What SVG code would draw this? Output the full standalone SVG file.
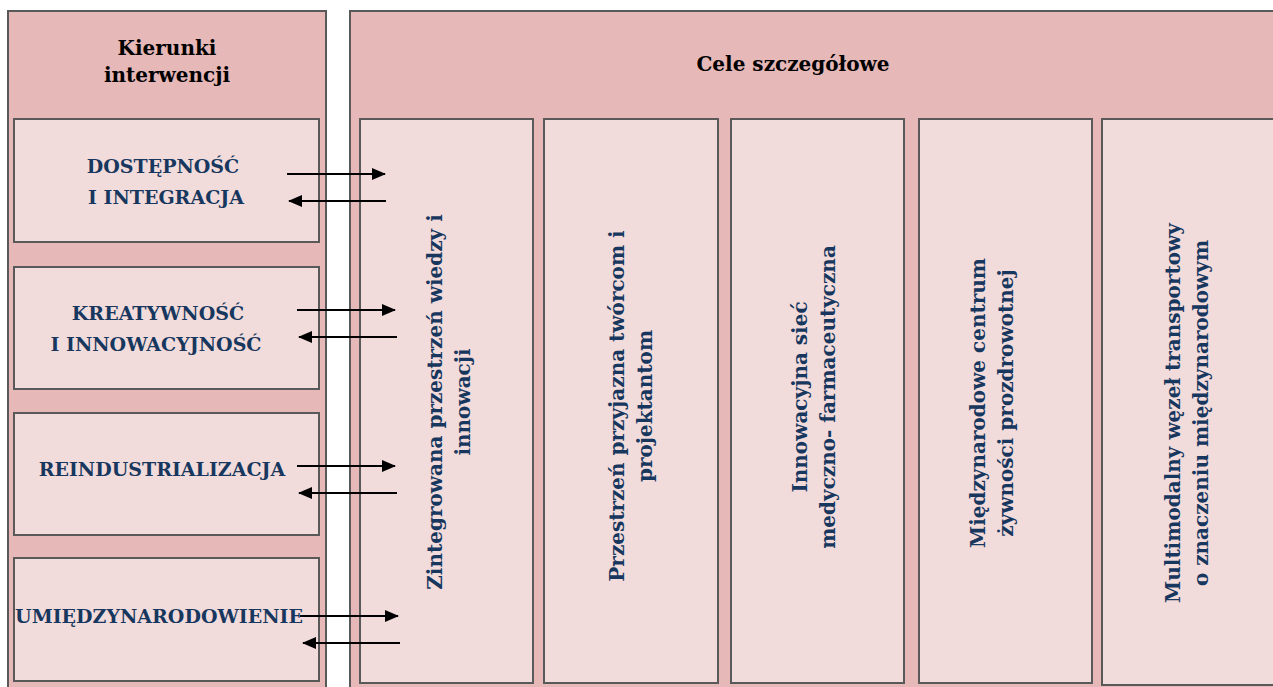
<svg xmlns="http://www.w3.org/2000/svg" width="1273" height="687" viewBox="0 0 1273 687">
<style>
.outer{fill:#E6B8B7;stroke:#595959;stroke-width:2}
.inner{fill:#F2DCDB;stroke:#595959;stroke-width:2}
.hd{font-family:"DejaVu Serif","Liberation Serif",serif;font-weight:bold;font-size:20px;fill:#000;text-anchor:middle}
.bl{font-family:"DejaVu Serif","Liberation Serif",serif;font-weight:bold;font-size:19px;fill:#17375E;text-anchor:middle}
.vt{font-family:"DejaVu Serif","Liberation Serif",serif;font-weight:bold;font-size:20px;fill:#17375E;text-anchor:middle}
.arr{stroke:#000;stroke-width:2;fill:none;marker-end:url(#ah)}
</style>
<defs>
<marker id="ah" markerUnits="userSpaceOnUse" markerWidth="14" markerHeight="14" viewBox="0 0 14 14" refX="13" refY="7" orient="auto">
<path d="M0,1 L14,7 L0,13 Z" fill="#000"/>
</marker>
</defs>
<g id="left-panel">
<rect class="outer" x="8" y="11" width="318" height="700"/>
<text class="hd" x="167" y="55">Kierunki</text>
<text class="hd" x="167" y="82">interwencji</text>
</g>
<g id="right-panel">
<rect class="outer" x="350" y="11" width="950" height="700"/>
<text class="hd" x="793" y="71">Cele szczegółowe</text>
</g>
<g id="k1">
<rect class="inner" x="14" y="119" width="305" height="123"/>
<text class="bl" x="163" y="173">DOSTĘPNOŚĆ</text>
<text class="bl" x="166" y="204">I INTEGRACJA</text>
</g>
<g id="k2">
<rect class="inner" x="14" y="267" width="305" height="122"/>
<text class="bl" x="158" y="320">KREATYWNOŚĆ</text>
<text class="bl" x="156" y="351">I INNOWACYJNOŚĆ</text>
</g>
<g id="k3">
<rect class="inner" x="14" y="413" width="305" height="122"/>
<text class="bl" x="162" y="476">REINDUSTRIALIZACJA</text>
</g>
<g id="k4">
<rect class="inner" x="14" y="558" width="305" height="123"/>
<text class="bl" x="159" y="623">UMIĘDZYNARODOWIENIE</text>
</g>
<g id="c1">
<rect class="inner" x="360" y="119" width="173" height="564"/>
<text class="vt" transform="translate(442,402) rotate(-90)"><tspan x="0" y="0">Zintegrowana przestrzeń wiedzy i</tspan><tspan x="0" y="28">innowacji</tspan></text>
</g>
<g id="c2">
<rect class="inner" x="544" y="119" width="174" height="564"/>
<text class="vt" transform="translate(624,406) rotate(-90)"><tspan x="0" y="0">Przestrzeń przyjazna twórcom i</tspan><tspan x="0" y="28">projektantom</tspan></text>
</g>
<g id="c3">
<rect class="inner" x="731" y="119" width="173" height="564"/>
<text class="vt" transform="translate(807,397) rotate(-90)"><tspan x="0" y="0">Innowacyjna sieć</tspan><tspan x="0" y="28">medyczno- farmaceutyczna</tspan></text>
</g>
<g id="c4">
<rect class="inner" x="919" y="119" width="173" height="564"/>
<text class="vt" transform="translate(985,403) rotate(-90)"><tspan x="0" y="0">Międzynarodowe centrum</tspan><tspan x="0" y="28">żywności prozdrowotnej</tspan></text>
</g>
<g id="c5">
<rect class="inner" x="1102" y="119" width="200" height="566"/>
<text class="vt" transform="translate(1180,413) rotate(-90)"><tspan x="0" y="0">Multimodalny węzeł transportowy</tspan><tspan x="0" y="28">o znaczeniu międzynarodowym</tspan></text>
</g>
<g id="connectors">
<line class="arr" x1="287" y1="174" x2="385" y2="174"/>
<line class="arr" x1="386" y1="201" x2="289" y2="201"/>
<line class="arr" x1="297" y1="310" x2="395" y2="310"/>
<line class="arr" x1="397" y1="337" x2="299" y2="337"/>
<line class="arr" x1="297" y1="466" x2="395" y2="466"/>
<line class="arr" x1="397" y1="493" x2="299" y2="493"/>
<line class="arr" x1="300" y1="616" x2="398" y2="616"/>
<line class="arr" x1="400" y1="643" x2="303" y2="643"/>
</g>
</svg>
